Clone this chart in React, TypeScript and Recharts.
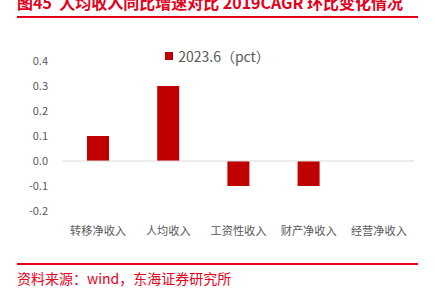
import { Bar, BarChart, Legend, ReferenceLine, XAxis, YAxis } from "recharts";

const categories = ["转移净收入", "人均收入", "工资性收入", "财产净收入", "经营净收入"];
const values = [0.1, 0.3, -0.1, -0.1, 0];
const yTicks = [-0.2, -0.1, 0, 0.1, 0.2, 0.3, 0.4];
const seriesName = "2023.6（pct）";

const FONT = '"Noto Sans CJK SC", "Microsoft YaHei", sans-serif';
const RED = "#C00000";
const TITLE_RED = "#E3001B";
const GREY = "#595959";

const data = categories.map((c, i) => ({ name: c, value: values[i] }));

function LegendBox() {
  return (
    <div style={{ display: "flex", justifyContent: "center", alignItems: "center", fontFamily: FONT }}>
      <span style={{ width: 8, height: 8, background: RED, marginRight: 5 }} />
      <span style={{ fontSize: 14, color: GREY }}>{seriesName}</span>
    </div>
  );
}

export default function App() {
  return (
    <div style={{ position: "absolute", left: 0, top: 0, width: 435, height: 290, overflow: "hidden", background: "#fff", fontFamily: FONT }}>
      <div style={{ position: "absolute", left: 17, top: -7, fontSize: 16, lineHeight: "18px", fontWeight: 700, color: TITLE_RED, whiteSpace: "nowrap" }}>
        图45&nbsp;&nbsp;人均收入同比增速对比 2019CAGR 环比变化情况
      </div>
      <div style={{ position: "absolute", left: 17, top: 16, width: 401, height: 2, background: TITLE_RED }} />
      <div style={{ position: "absolute", left: 0, top: 0 }}>
        <BarChart width={435} height={241} data={data} margin={{ top: 61, right: 21, bottom: 0, left: 0 }}>
          <YAxis
            domain={[-0.2, 0.4]}
            ticks={yTicks}
            tickFormatter={(v: number) => v.toFixed(1)}
            width={63}
            axisLine={false}
            tickLine={false}
            tickSize={0}
            tickMargin={15}
            tick={{ fontSize: 11, fill: GREY, fontFamily: FONT }}
            interval={0}
          />
          <XAxis
            dataKey="name"
            height={30}
            axisLine={false}
            tickLine={false}
            tickSize={0}
            tickMargin={16}
            tick={{ fontSize: 11.2, fill: GREY, fontFamily: FONT }}
            interval={0}
          />
          <ReferenceLine y={0} stroke="#D9D9D9" strokeWidth={1} />
          <Legend
            verticalAlign="middle"
            align="center"
            content={() => <LegendBox />}
            wrapperStyle={{ top: 46, left: 0, width: 435 }}
          />
          <Bar dataKey="value" name={seriesName} fill={RED} barSize={22} isAnimationActive={false} />
        </BarChart>
      </div>
      <div style={{ position: "absolute", left: 17, top: 263, width: 401, height: 1.5, background: TITLE_RED }} />
      <div style={{ position: "absolute", left: 17, top: 270, fontSize: 14, lineHeight: "16px", color: TITLE_RED, whiteSpace: "nowrap" }}>
        资料来源：wind，东海证券研究所
      </div>
    </div>
  );
}
